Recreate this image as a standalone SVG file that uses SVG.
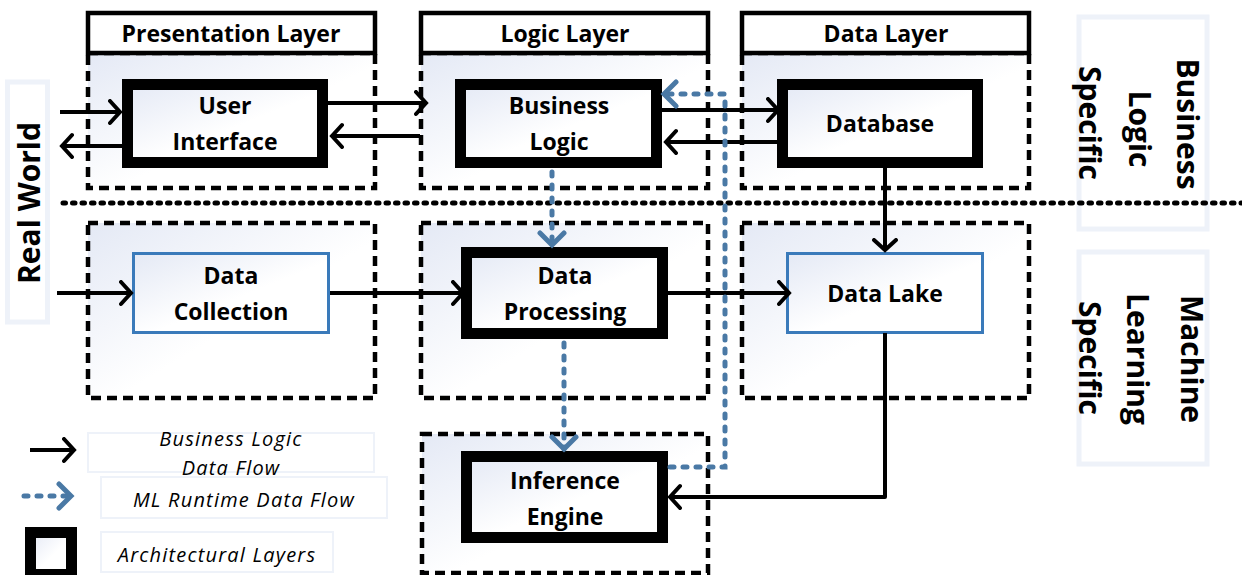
<svg xmlns="http://www.w3.org/2000/svg" width="1242" height="575" viewBox="0 0 1242 575">
<style>
.hdr{fill:#fff;stroke:#000;stroke-width:4.5}
.body{fill:url(#g);stroke:#000;stroke-width:4.5;stroke-dasharray:10 6}
.thick{fill:url(#g);stroke:#000;stroke-width:11}
.blue{fill:url(#g);stroke:#3a7aba;stroke-width:3}
.lbl{fill:#fff;stroke:#eef2f9;stroke-width:5}
.leg{fill:#fff;stroke:#eef2f9;stroke-width:2}
text{font-family:"Open Sans",Lato,"Liberation Sans",sans-serif;fill:#000}
.t{font-size:23px;font-weight:700;text-anchor:middle}
.r{font-size:30px;font-weight:700;text-anchor:middle}
.i{font-size:20px;font-style:italic;text-anchor:middle;letter-spacing:1.2px}
.bl{fill:none;stroke:#000;stroke-width:4;marker-end:url(#ab)}
.dl{fill:none;stroke:#4a79a5;stroke-width:5;stroke-dasharray:4 9;stroke-linecap:round;marker-end:url(#ad)}
</style>
<defs>
<linearGradient id="g" x1="0" y1="0" x2="1" y2="1">
<stop offset="0" stop-color="#e4e9f5"/>
<stop offset="0.55" stop-color="#fff"/>
<stop offset="1" stop-color="#fff"/>
</linearGradient>
<marker id="ab" markerUnits="userSpaceOnUse" markerWidth="18" markerHeight="28" refX="12" refY="13" orient="auto" viewBox="0 0 18 28">
<path d="M2,2 L12,13 L2,24" fill="none" stroke="#000" stroke-width="4" stroke-linecap="round"/>
</marker>
<marker id="ad" markerUnits="userSpaceOnUse" markerWidth="22" markerHeight="32" refX="15" refY="15" orient="auto" viewBox="0 0 22 32">
<path d="M3,3 L15,15 L3,27" fill="none" stroke="#4a79a5" stroke-width="5" stroke-linecap="round"/>
</marker>
</defs>
<rect width="1242" height="575" fill="#fff"/>

<g id="real-world">
<rect class="lbl" x="7.5" y="82" width="40" height="240"/>
<text class="r" transform="translate(29,203) rotate(-90)" dy="0.36em">Real World</text>
</g>
<g id="business-logic-specific">
<rect class="lbl" x="1079" y="17" width="128" height="212"/>
<text class="r" transform="translate(1188,124) rotate(90)" dy="0.36em">Business</text>
<text class="r" transform="translate(1140,129) rotate(90)" dy="0.36em">Logic</text>
<text class="r" transform="translate(1090,123) rotate(90)" dy="0.36em">Specific</text>
</g>
<g id="ml-specific">
<rect class="lbl" x="1079" y="252" width="128" height="212"/>
<text class="r" transform="translate(1192,359) rotate(90)" dy="0.36em">Machine</text>
<text class="r" transform="translate(1138,359) rotate(90)" dy="0.36em">Learning</text>
<text class="r" transform="translate(1090,358) rotate(90)" dy="0.36em">Specific</text>
</g>

<g id="presentation-layer">
<rect class="body" x="88" y="53" width="287" height="135"/>
<rect class="hdr" x="88" y="13" width="287" height="40"/>
<text class="t" x="231" y="42">Presentation Layer</text>
</g>
<g id="logic-layer">
<rect class="body" x="421" y="53" width="287" height="135"/>
<rect class="hdr" x="421" y="13" width="287" height="40"/>
<text class="t" x="565" y="42">Logic Layer</text>
</g>
<g id="data-layer">
<rect class="body" x="742" y="53" width="287" height="135"/>
<rect class="hdr" x="742" y="13" width="287" height="40"/>
<text class="t" x="886" y="42">Data Layer</text>
</g>
<g id="presentation-ml">
<rect class="body" x="88" y="223" width="287" height="175"/>
</g>
<g id="logic-ml">
<rect class="body" x="421" y="223" width="287" height="175"/>
</g>
<g id="data-ml">
<rect class="body" x="742" y="223" width="287" height="175"/>
</g>
<g id="inference-layer">
<rect class="body" x="422" y="434" width="286" height="139"/>
</g>

<g id="user-interface">
<rect class="thick" x="127.5" y="84.5" width="195" height="78"/>
<text class="t" x="225" y="114">User</text>
<text class="t" x="225" y="150">Interface</text>
</g>
<g id="business-logic">
<rect class="thick" x="460.5" y="84.5" width="196" height="78"/>
<text class="t" x="559" y="114">Business</text>
<text class="t" x="559" y="150">Logic</text>
</g>
<g id="database">
<rect class="thick" x="782.5" y="84.5" width="195" height="78"/>
<text class="t" x="880" y="132">Database</text>
</g>
<g id="data-collection">
<rect class="blue" x="133.5" y="253.5" width="195" height="79"/>
<text class="t" x="231" y="284">Data</text>
<text class="t" x="231" y="320">Collection</text>
</g>
<g id="data-processing">
<rect class="thick" x="466.5" y="252.5" width="196" height="81"/>
<text class="t" x="565" y="284">Data</text>
<text class="t" x="565" y="320">Processing</text>
</g>
<g id="data-lake">
<rect class="blue" x="787.5" y="253.5" width="195" height="79"/>
<text class="t" x="885" y="302">Data Lake</text>
</g>
<g id="inference-engine">
<rect class="thick" x="466.5" y="456.5" width="196" height="81"/>
<text class="t" x="565" y="489">Inference</text>
<text class="t" x="565" y="525">Engine</text>
</g>

<g id="separator">
<line x1="63" y1="203" x2="1242" y2="203" stroke="#000" stroke-width="5" stroke-dasharray="2.5 7" stroke-linecap="round"/>
</g>

<g id="connectors">
<path class="bl" d="M60,112 H120"/>
<path class="bl" d="M122,146 H62"/>
<path class="bl" d="M328,103 H426"/>
<path class="bl" d="M420,136 H332"/>
<path class="bl" d="M662,110 H778"/>
<path class="bl" d="M777,142 H666"/>
<path class="bl" d="M885,168 V250"/>
<path class="bl" d="M57,293 H131"/>
<path class="bl" d="M330,293 H463"/>
<path class="bl" d="M668,293 H789"/>
<path class="bl" d="M885,333 V497 H670" style="stroke-linejoin:round"/>
<path class="dl" d="M552,172 V245"/>
<path class="dl" d="M564,343 V449"/>
<path class="dl" d="M670,467 H725 V94 H664"/>
</g>

<g id="legend">
<rect class="leg" x="88" y="433" width="286" height="39"/>
<rect class="leg" x="101" y="477" width="286" height="41"/>
<rect class="leg" x="101" y="532" width="232" height="40"/>
<path class="bl" d="M30,450 H74"/>
<path class="dl" d="M24,496 H71"/>
<rect x="30.5" y="532.5" width="41" height="42" fill="url(#g)" stroke="#000" stroke-width="11"/>
<text class="i" x="231" y="446">Business Logic</text>
<text class="i" x="231" y="475">Data Flow</text>
<text class="i" x="244" y="507">ML Runtime Data Flow</text>
<text class="i" x="217" y="562">Architectural Layers</text>
</g>
</svg>
